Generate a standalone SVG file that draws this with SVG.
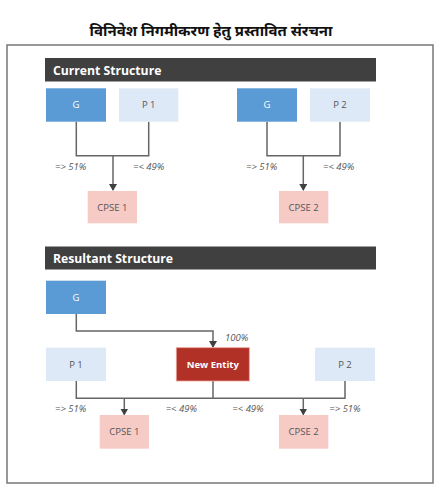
<svg xmlns="http://www.w3.org/2000/svg" width="443" height="496" viewBox="0 0 443 496">
<style>
.lbl{font-family:"Open Sans","Liberation Sans",sans-serif;font-size:9.5px;font-style:italic;fill:#555}
.bt{font-family:"Open Sans","Liberation Sans",sans-serif;font-size:9.5px;fill:#555;text-anchor:middle}
.wt{font-family:"Open Sans","Liberation Sans",sans-serif;font-size:9.5px;fill:#fff;text-anchor:middle}
.hdr{fill:#404040}
.ht{font-family:"Open Sans","Liberation Sans",sans-serif;font-size:12.2px;font-weight:bold;fill:#fff}
.g{fill:#5b9bd5}
.p{fill:#dee9f7}
.c{fill:#f7cbc5}
.con{fill:none;stroke:#666;stroke-width:1.5}
</style>
<defs>
<marker id="arr" markerWidth="8" markerHeight="8" refX="6" refY="4" orient="auto" markerUnits="userSpaceOnUse">
<path d="M0,0 L7,4 L0,8 Z" fill="#404040"/>
</marker>
</defs>
<rect width="443" height="496" fill="#fff"/>
<text x="211" y="36" text-anchor="middle" font-family="'Noto Sans','Noto Sans Devanagari','Lohit Devanagari',sans-serif" font-size="15" font-weight="bold" fill="#111">विनिवेश निगमीकरण हेतु प्रस्तावित संरचना</text>
<rect x="7" y="45" width="426" height="438" fill="none" stroke="#777" stroke-width="1.5"/>

<g id="hdr1"><rect class="hdr" x="45" y="58" width="331" height="23.5"/><text class="ht" x="53" y="74.5">Current Structure</text></g>
<g id="hdr2"><rect class="hdr" x="45" y="246.5" width="331" height="23"/><text class="ht" x="53" y="262.8">Resultant Structure</text></g>

<g id="connectors">
<path class="con" d="M76.3,121.7 V155.7 H148.7 V121.7"/>
<path class="con" d="M113,155.7 V190" marker-end="url(#arr)"/>
<path class="con" d="M267,121.7 V155.7 H340 V121.7"/>
<path class="con" d="M303.3,155.7 V190" marker-end="url(#arr)"/>
<path class="con" d="M76.3,314 V331 H213 V347" marker-end="url(#arr)"/>
<path class="con" d="M76.3,381 V398.3 H345 V381"/>
<path class="con" d="M213,381 V398.3"/>
<path class="con" d="M124.3,398.3 V414.5" marker-end="url(#arr)"/>
<path class="con" d="M303.3,398.3 V414.5" marker-end="url(#arr)"/>
</g>

<g id="labels">
<text class="lbl" x="55" y="170">=&gt; 51%</text>
<text class="lbl" x="133" y="170">=&lt; 49%</text>
<text class="lbl" x="246" y="170">=&gt; 51%</text>
<text class="lbl" x="323" y="170">=&lt; 49%</text>
<text class="lbl" x="225" y="341">100%</text>
<text class="lbl" x="55" y="412">=&gt; 51%</text>
<text class="lbl" x="165.7" y="412">=&lt; 49%</text>
<text class="lbl" x="232.3" y="412">=&lt; 49%</text>
<text class="lbl" x="329.3" y="412">=&gt; 51%</text>
</g>

<g id="g1"><rect class="g" x="46" y="88.3" width="60" height="33.4"/><text class="wt" x="76" y="108">G</text></g>
<g id="p1"><rect class="p" x="119" y="88.3" width="59.3" height="33.4"/><text class="bt" x="148.7" y="108">P 1</text></g>
<g id="g2"><rect class="g" x="237" y="88.3" width="60" height="33.4"/><text class="wt" x="267" y="108">G</text></g>
<g id="p2"><rect class="p" x="310" y="88.3" width="60" height="33.4"/><text class="bt" x="340" y="108">P 2</text></g>
<g id="cpse1"><rect class="c" x="87.7" y="191" width="49.3" height="32.3"/><text class="bt" x="112.3" y="210.5">CPSE 1</text></g>
<g id="cpse2"><rect class="c" x="279" y="191" width="49.3" height="32.3"/><text class="bt" x="303.6" y="210.5">CPSE 2</text></g>

<g id="rg"><rect class="g" x="46" y="280.7" width="60" height="33.3"/><text class="wt" x="76" y="300.5">G</text></g>
<g id="rp1"><rect class="p" x="46" y="347.7" width="60" height="33.3"/><text class="bt" x="76" y="367.5">P 1</text></g>
<g id="newentity"><rect x="176.3" y="347.7" width="73" height="33.3" fill="#b23127" stroke="#e9a29a" stroke-width="0.8"/><text class="wt" x="212.8" y="367.5" font-weight="bold">New Entity</text></g>
<g id="rp2"><rect class="p" x="315" y="347.7" width="60" height="33.3"/><text class="bt" x="345" y="367.5">P 2</text></g>
<g id="rcpse1"><rect class="c" x="99.7" y="415" width="49.3" height="33.7"/><text class="bt" x="124.3" y="435">CPSE 1</text></g>
<g id="rcpse2"><rect class="c" x="279" y="415" width="49.3" height="33.7"/><text class="bt" x="303.6" y="435">CPSE 2</text></g>
</svg>
